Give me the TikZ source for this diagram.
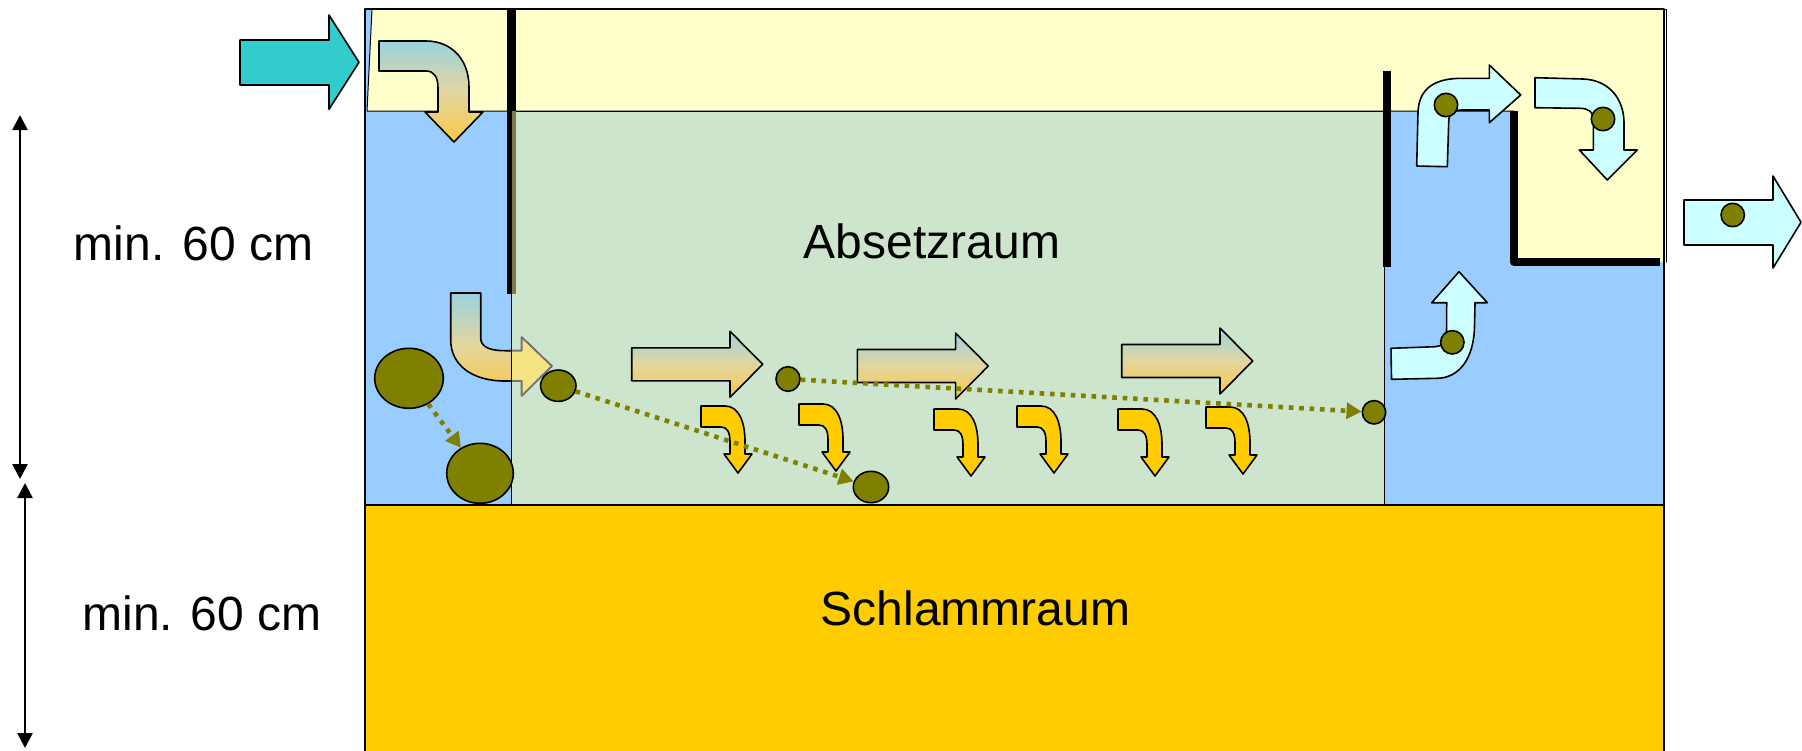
\documentclass[tikz,border=0pt]{standalone}
\usepackage{fontspec}
\setmainfont{Liberation Sans}
\usepackage{xcolor}
\usetikzlibrary{arrows.meta,shapes.geometric,positioning}
\definecolor{waterblue}{HTML}{99CCFF}
\definecolor{topyellow}{HTML}{FFFFCC}
\definecolor{settlegreen}{HTML}{CCE5CC}
\definecolor{sludgegold}{HTML}{FFCC00}
\definecolor{inletteal}{HTML}{33CCCC}
\definecolor{cleancyan}{HTML}{CCFFFF}
\definecolor{flocolive}{HTML}{808000}
\definecolor{flowteal}{HTML}{9AD3DE}
\definecolor{flowmid}{HTML}{E3D6A0}
\definecolor{flowgold}{HTML}{F9C845}
\definecolor{fadedgold}{HTML}{F3E382}
\definecolor{baffletint}{HTML}{7F7A50}

\begin{document}
\begin{tikzpicture}[line cap=round,line join=round,x=0.5pt,y=-0.5pt,
    flow/.style={draw=black,line width=0.8pt,top color=flowteal,bottom color=flowgold,middle color=flowmid},
    sinkarrow/.style={draw=black,line width=0.8pt,fill=sludgegold},
    clean/.style={draw=black,line width=0.8pt,fill=cleancyan},
    ball/.style={ellipse,draw=black,line width=0.8pt,fill=flocolive,inner sep=0pt},
    trail/.style={draw=flocolive,line width=2.3pt,line cap=butt,dash pattern=on 2.3pt off 2.9pt,-{Triangle[length=7.5pt,width=8pt]}},
    baffle/.style={line width=4pt,line cap=butt},
    dim/.style={line width=1.3pt,{Triangle[length=7.5pt,width=7.5pt]}-{Triangle[length=7.5pt,width=7.5pt]}},
    label text/.style={font=\fontsize{24}{28}\selectfont,inner sep=0pt}]
\useasboundingbox (0,0) rectangle (1802,750);

% chambers
\fill[waterblue] (365,9) rectangle (1664,505);
\fill[topyellow] (372,9) -- (1664,9) -- (1664,111) -- (367,111) -- cycle;
\fill[topyellow] (1514,111) rectangle (1666,262);
\draw[line width=0.5pt] (372,9) -- (367,111) -- (1514,111);
\draw[line width=0.5pt] (1664,9) -- (1666,9) -- (1666,262);
\filldraw[fill=settlegreen,draw=black,line width=0.5pt] (511.5,111) rectangle (1384,505);
\filldraw[fill=sludgegold,draw=black,line width=1pt] (365,505) rectangle (1664,760);
\draw[line width=1pt] (365,750) -- (365,9) -- (1664,9) -- (1664,750);

% baffles
\fill[black] (507.3,9) rectangle (515.7,111);
\fill[black] (507.3,111) rectangle (511.5,294);
\fill[baffletint] (511.5,111) rectangle (515.7,294);
\draw[baffle] (1387,71) -- (1387,267);
\draw[baffle] (1514,111) -- (1514,262) -- (1660,262);

% inflow
\filldraw[fill=inletteal,draw=black,line width=0.8pt] (240,40) -- (329,40) -- (329,15) -- (359,62.3) -- (329,109.3) -- (329,85) -- (240,85) -- cycle;
\shade[flow] (379,41) -- (426,41) .. controls (452,41) and (469,60) .. (469,87) -- (469,112) -- (483,112) -- (454,142) -- (425,112) -- (438,112) -- (438,88) .. controls (438,77) and (434,71) .. (426,71) -- (379,71) -- cycle;
\shade[flow] (450.7,293) -- (480.7,293) -- (480.7,338) .. controls (480.7,346) and (488,350.7) .. (505,350.7) -- (521.7,350.7) -- (521.7,337.3) -- (551.7,366) -- (521.7,395.7) -- (521.7,381) -- (505,381) .. controls (472,381) and (450.7,365) .. (450.7,340) -- cycle;
\filldraw[fill=fadedgold,draw=black!55,line width=0.8pt] (511.5,350.7) -- (521.7,350.7) -- (521.7,337.3) -- (551.7,366) -- (521.7,395.7) -- (521.7,381) -- (511.5,381);
\draw[line width=0.5pt] (511.5,111) -- (511.5,505);

% flow through the settling zone
\foreach \x/\y in {631.7/364.3,857.3/366,1121.7/361}
  \shade[flow,shift={(\x,\y)}] (0,-16.5) -- (98.3,-16.5) -- (98.3,-33) -- (131,0) -- (98.3,33) -- (98.3,16.5) -- (0,16.5) -- cycle;
\foreach \x/\y in {701/406,799/404,934/409,1017/406,1118/409,1206/407}
  \filldraw[sinkarrow,shift={(\x,\y)}] (0,0) -- (24,0) .. controls (38,0) and (44,16) .. (44,36) -- (44,48) -- (51,48) -- (37,67) -- (23,48) -- (29,48) -- (29,36) .. controls (29,26) and (26,21) .. (20,21) -- (0,21) -- cycle;

% outflow
\filldraw[clean] (1416.7,166) -- (1418,112) .. controls (1419,88) and (1435,78.3) .. (1462,78.3) -- (1489.3,78.3) -- (1489.3,65) -- (1520.7,95) -- (1489.3,122.7) -- (1489.3,110) -- (1462,110) .. controls (1452,110) and (1448.7,114) .. (1448.7,122) -- (1447.3,166.7) -- cycle;
\filldraw[clean] (1535,77.7) -- (1583,79) .. controls (1610,80) and (1624,100) .. (1624,123) -- (1624,150) -- (1637.3,150) -- (1607.3,180) -- (1579.3,150) -- (1593.3,150) -- (1593.3,118) .. controls (1593.3,112) and (1588,108.3) .. (1580,108.3) -- (1535,107.7) -- cycle;
\filldraw[clean] (1391,348.3) -- (1435,346.7) .. controls (1442,346.7) and (1446.5,342) .. (1446.5,333) -- (1446.7,302.7) -- (1431.7,302.7) -- (1459,271.7) -- (1487.3,302.7) -- (1475,302.7) -- (1474.5,326) .. controls (1474,360) and (1458,378.3) .. (1436.7,378.3) -- (1391.5,379.3) -- cycle;
\filldraw[clean] (1684,200) -- (1773,200) -- (1773,176) -- (1801,222.3) -- (1773,268) -- (1773,245) -- (1684,245) -- cycle;

% particles
\node[ball,minimum width=34.3pt,minimum height=30pt] (sink1) at (409,378.3) {};
\node[ball,minimum width=33.3pt,minimum height=30pt] (sink2) at (480,473.3) {};
\node[ball,minimum width=17.7pt,minimum height=15.7pt] (floc1) at (558.3,385.7) {};
\node[ball,minimum width=12pt,minimum height=12.3pt] (floc2) at (788,379) {};
\node[ball,minimum width=17.7pt,minimum height=15.7pt] (floc3) at (871,487) {};
\node[ball,minimum width=11.7pt,minimum height=11.7pt] (floc4) at (1374,412.3) {};
\node[ball,minimum width=11.7pt,minimum height=11.7pt] (carry1) at (1446,105) {};
\node[ball,minimum width=11.7pt,minimum height=11.7pt] (carry2) at (1603,119) {};
\node[ball,minimum width=11.7pt,minimum height=11.7pt] (carry3) at (1452.3,342.3) {};
\node[ball,minimum width=11.7pt,minimum height=11.7pt] (carry4) at (1732.7,215) {};
\draw[trail] (sink1) -- (sink2);
\draw[trail] (floc1) -- (floc3);
\draw[trail] (floc2) -- (floc4);

% labels
\node[label text] (absetz) at (932,241) {Absetzraum};
\node[label text] (schlamm) at (975.5,608) {Schlammraum};
\node[label text] (upper) at (193.5,243.6) {min. 60 cm};
\node[label text] (lower) at (202,613.7) {min. 60 cm};
\coordinate (dimtop) at (20,115);
\coordinate (dimmid) at (20,479);
\coordinate (dimlow) at (25,483);
\coordinate (dimbot) at (25,748);
\draw[dim] (dimtop) -- (dimmid);
\draw[dim] (dimlow) -- (dimbot);
\end{tikzpicture}
\end{document}
